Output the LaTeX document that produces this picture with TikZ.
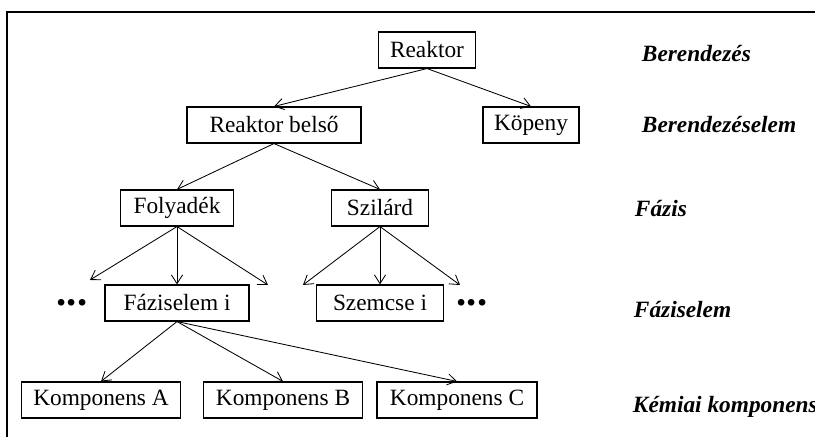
\documentclass[tikz,border=0pt]{standalone}
\usepackage{fontspec}
\setmainfont{Liberation Serif}
\usetikzlibrary{arrows.meta,positioning}

\begin{document}
\begin{tikzpicture}[
    box/.style={draw, line width=0.8pt, minimum height=0.9cm, inner sep=0pt,
        font=\fontsize{16.6}{19}\selectfont},
    level/.style={anchor=base west, font=\fontsize{16.6}{19}\selectfont\bfseries\itshape},
    arr/.style={-{Straight Barb[length=2.2mm,width=2.8mm]}, line width=0.6pt},
    dots/.style={font=\fontsize{29}{30}\selectfont\bfseries}
]
    \useasboundingbox (0,0) rectangle (20.375,10.925);

    % Frame (top and left edges)
    \draw[line width=2pt] (0.175,0) -- (0.175,10.625) -- (20.375,10.625);

    % Equipment
    \node[box, minimum width=2.425cm] (reaktor) at (10.675,9.675) {Reaktor};

    % Equipment elements
    \node[box, minimum width=4.35cm] (belso) at (6.85,7.8) {Reaktor belső};
    \node[box, minimum width=2.4cm] (kopeny) at (13.275,7.8) {Köpeny};

    % Phases
    \node[box, minimum width=2.825cm] (folyadek) at (4.425,5.725) {Folyadék};
    \node[box, minimum width=2.425cm] (szilard) at (9.5,5.725) {Szilárd};

    % Phase elements
    \node[box, minimum width=3.6cm] (fazisel) at (4.425,3.35) {Fáziselem i};
    \node[box, minimum width=3.175cm] (szemcse) at (9.5,3.35) {Szemcse i};
    \node[dots] (dotsL) at (1.8,3.35) {...};
    \node[dots] (dotsR) at (11.8,3.35) {...};

    % Chemical components
    \node[box, minimum width=3.975cm] (kompA) at (2.525,0.925) {Komponens A};
    \node[box, minimum width=3.975cm] (kompB) at (7.075,0.925) {Komponens B};
    \node[box, minimum width=4cm] (kompC) at (11.425,0.925) {Komponens C};

    % free arrow ends
    \coordinate (fl) at (2.25,3.925);
    \coordinate (fr) at (6.7,3.8);
    \coordinate (sl) at (7.575,3.8);
    \coordinate (sr) at (11.5,3.8);

    % Connectors
    \draw[arr] (reaktor.south) -- (belso.north);
    \draw[arr] (reaktor.south) -- (kopeny.north);
    \draw[arr] (belso.south) -- (folyadek.north);
    \draw[arr] (belso.south) -- (szilard.north);
    \draw[arr] (folyadek.south) -- (fl);
    \draw[arr] (folyadek.south) -- (fazisel.north);
    \draw[arr] (folyadek.south) -- (fr);
    \draw[arr] (szilard.south) -- (sl);
    \draw[arr] (szilard.south) -- (szemcse.north);
    \draw[arr] (szilard.south) -- (sr);
    \draw[arr] (fazisel.south) -- (kompA.north);
    \draw[arr] (fazisel.south) -- (kompB.north);
    \draw[arr] (fazisel.south) -- (kompC.north);

    % Level names
    \node[level] (lvl1) at (15.925,9.375) {Berendezés};
    \node[level] (lvl2) at (15.925,7.6) {Berendezéselem};
    \node[level] (lvl3) at (15.75,5.5) {Fázis};
    \node[level] (lvl4) at (15.725,2.975) {Fáziselem};
    \node[level] (lvl5) at (15.7,0.6) {Kémiai komponens};
\end{tikzpicture}
\end{document}
